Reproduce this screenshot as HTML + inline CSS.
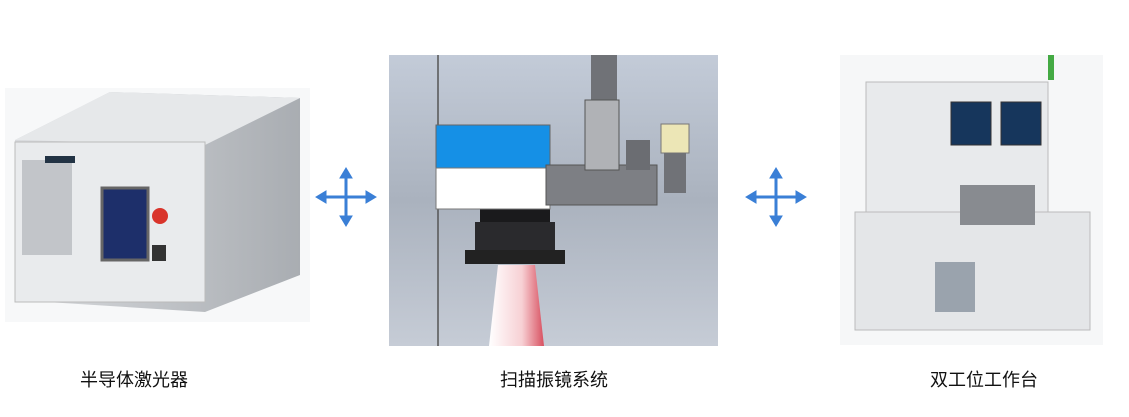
<!DOCTYPE html>
<html><head><meta charset="utf-8"><style>
body{margin:0;width:1129px;height:417px;background:#fff;overflow:hidden;position:relative;font-family:"Liberation Sans","Noto Sans CJK SC",sans-serif}
.l{position:absolute;top:369px;font-size:18px;line-height:22px;color:#111}
</style></head><body>
<svg width="1129" height="417" style="position:absolute;left:0;top:0">
<defs>
<linearGradient id="bg" x1="0" y1="0" x2="0" y2="1"><stop offset="0" stop-color="#c3cbd8"/><stop offset=".5" stop-color="#aab2be"/><stop offset="1" stop-color="#c6ccd6"/></linearGradient>
<linearGradient id="beam" x1="0" y1="0" x2="1" y2="0"><stop offset="0" stop-color="#fff"/><stop offset=".6" stop-color="#f7d0d4"/><stop offset="1" stop-color="#d85060"/></linearGradient>
<linearGradient id="box" x1="0" y1="0" x2="1" y2="0"><stop offset="0" stop-color="#d8dadd"/><stop offset="1" stop-color="#a9adb2"/></linearGradient>
</defs>
<rect x="5" y="88" width="305" height="234" fill="#f7f8f9"/>
<polygon points="15,140 110,92 300,98 300,275 205,312 15,300" fill="url(#box)"/>
<polygon points="15,140 110,92 300,98 205,145" fill="#e6e8ea"/>
<rect x="15" y="142" width="190" height="160" fill="#e9ebed" stroke="#bbb"/>
<rect x="22" y="160" width="50" height="95" fill="#c2c5c9"/>
<rect x="102" y="188" width="46" height="72" fill="#1d2f6a" stroke="#666" stroke-width="3"/>
<circle cx="160" cy="216" r="8" fill="#d9342b"/>
<rect x="152" y="245" width="14" height="16" fill="#333"/>
<rect x="45" y="156" width="30" height="7" fill="#234"/>
<rect x="389" y="55" width="329" height="291" fill="url(#bg)"/>
<line x1="438" y1="55" x2="438" y2="346" stroke="#555" stroke-width="1.5"/>
<polygon points="498,265 535,265 544,346 489,346" fill="url(#beam)"/>
<rect x="480" y="209" width="70" height="13" fill="#1a1a1c"/>
<rect x="475" y="222" width="80" height="30" fill="#2a2a2d"/>
<rect x="465" y="250" width="100" height="14" fill="#222"/>
<rect x="436" y="125" width="114" height="43" fill="#1590e6" stroke="#666"/>
<rect x="436" y="168" width="114" height="41" fill="#fff" stroke="#777"/>
<rect x="546" y="165" width="111" height="40" fill="#7d7f84" stroke="#555"/>
<rect x="591" y="55" width="26" height="45" fill="#707277"/>
<rect x="585" y="100" width="34" height="70" fill="#b0b2b6" stroke="#555"/>
<rect x="626" y="140" width="24" height="30" fill="#6b6d72"/>
<rect x="661" y="124" width="28" height="29" fill="#ece6b6" stroke="#777"/>
<rect x="664" y="153" width="22" height="40" fill="#707277"/>
<rect x="840" y="55" width="263" height="290" fill="#f6f7f8"/>
<rect x="866" y="82" width="182" height="130" fill="#e8eaec" stroke="#bbb"/>
<rect x="855" y="212" width="235" height="118" fill="#e4e6e8" stroke="#bbb"/>
<rect x="951" y="102" width="40" height="43" fill="#16365c" stroke="#333"/>
<rect x="1001" y="102" width="40" height="43" fill="#16365c" stroke="#333"/>
<rect x="960" y="185" width="75" height="40" fill="#888b90"/>
<rect x="935" y="262" width="40" height="50" fill="#9aa3ad"/>
<rect x="1048" y="55" width="6" height="25" fill="#4a4"/>
<g fill="#3a7fd6" stroke="#3a7fd6">
<line x1="322" y1="197" x2="370" y2="197" stroke-width="3"/><line x1="346" y1="174" x2="346" y2="220" stroke-width="3"/>
<polygon points="316,197 326,191 326,203"/><polygon points="376,197 366,191 366,203"/><polygon points="346,168 340,178 352,178"/><polygon points="346,226 340,216 352,216"/>
<line x1="752" y1="197" x2="800" y2="197" stroke-width="3"/><line x1="776" y1="174" x2="776" y2="220" stroke-width="3"/>
<polygon points="746,197 756,191 756,203"/><polygon points="806,197 796,191 796,203"/><polygon points="776,168 770,178 782,178"/><polygon points="776,226 770,216 782,216"/>
</g>
</svg>
<div class="l" style="left:80px">半导体激光器</div>
<div class="l" style="left:500px">扫描振镜系统</div>
<div class="l" style="left:930px">双工位工作台</div>
</body></html>
